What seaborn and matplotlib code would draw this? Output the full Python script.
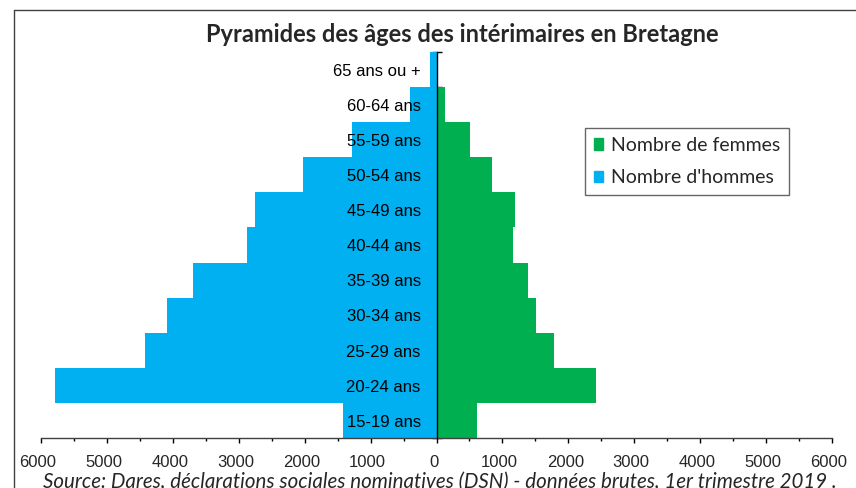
import pandas as pd
import matplotlib.pyplot as plt
import matplotlib.patches as mpatches
import matplotlib.transforms as mtransforms
from matplotlib.ticker import MultipleLocator, FuncFormatter
import seaborn as sns

# tranches d'age, du haut vers le bas
ages = ['65 ans ou +', '60-64 ans', '55-59 ans', '50-54 ans', '45-49 ans',
        '40-44 ans', '35-39 ans', '30-34 ans', '25-29 ans', '20-24 ans', '15-19 ans']
hommes = [105, 395, 1275, 2030, 2750, 2880, 3700, 4090, 4420, 5790, 1425]
femmes = [25, 125, 510, 835, 1195, 1165, 1390, 1515, 1775, 2420, 610]

BLUE = '#00B0F0'
GREEN = '#00B050'


def build_frame():
    rows = []
    for a, h, f in zip(ages, hommes, femmes):
        rows.append({'age': a, 'valeur': -h, 'sexe': "Nombre d'hommes"})
        rows.append({'age': a, 'valeur': f, 'sexe': 'Nombre de femmes'})
    return pd.DataFrame(rows)


def main():
    df = build_frame()
    sns.set_style('white')
    plt.rcParams['font.family'] = ['Liberation Sans', 'DejaVu Sans']

    fig = plt.figure(figsize=(8.56, 4.88), dpi=100)
    ax = fig.add_axes([41 / 856, 1 - 438 / 488, 791 / 856, 386 / 488])

    sns.barplot(data=df, x='valeur', y='age', hue='sexe', order=ages,
                palette={"Nombre d'hommes": BLUE, 'Nombre de femmes': GREEN},
                dodge=False, width=1.0, orient='h', legend=False,
                linewidth=0, saturation=1, ax=ax)

    ax.set_xlim(-6000, 6000)
    ax.set_ylim(len(ages) - 0.5, -0.5)
    ax.set_xlabel('')
    ax.set_ylabel('')

    # axe x
    ax.xaxis.set_major_locator(MultipleLocator(1000))
    ax.xaxis.set_minor_locator(MultipleLocator(500))
    ax.xaxis.set_major_formatter(FuncFormatter(lambda v, p: f'{abs(int(v))}'))
    ax.tick_params(axis='x', which='both', bottom=True)
    ax.tick_params(axis='x', which='major', direction='out', length=3.5,
                   width=1, color='black', labelsize=12, pad=8.5)
    ax.tick_params(axis='x', which='minor', direction='out', length=2.5,
                   width=1, color='black')
    shift = mtransforms.ScaledTranslation(-3 / 100, 0, fig.dpi_scale_trans)
    for lab in ax.get_xticklabels():
        lab.set_transform(lab.get_transform() + shift)

    # axe vertical au centre
    ax.spines['left'].set_position(('data', 0))
    ax.spines['left'].set_color('black')
    ax.spines['left'].set_linewidth(1)
    ax.spines['left'].set_zorder(5)
    ax.spines['bottom'].set_color('#404040')
    ax.spines['bottom'].set_linewidth(1)
    for s in ['top', 'right']:
        ax.spines[s].set_visible(False)
    ax.set_yticks([i + 0.5 for i in range(-1, len(ages))])
    ax.set_yticklabels([])
    ax.tick_params(axis='y', which='major', left=True, direction='inout',
                   length=7, width=1, color='black')

    for i, a in enumerate(ages):
        ax.text(-240, i + 0.05, a, ha='right', va='center', fontsize=12,
                color='black', zorder=6)

    fig.text(462 / 856, 1 - 34 / 488, 'Pyramides des âges des intérimaires en Bretagne',
             ha='center', va='center', fontsize=17, fontweight='bold',
             family=['Lato', 'DejaVu Sans'])

    handles = [mpatches.Patch(color=GREEN, label='Nombre de femmes'),
               mpatches.Patch(color=BLUE, label="Nombre d'hommes")]
    leg = fig.legend(handles=handles, loc='upper left',
                     bbox_to_anchor=(585 / 856, 1 - 128 / 488),
                     borderaxespad=0, frameon=True, fancybox=False,
                     edgecolor='#404040', handlelength=0.5, handleheight=0.55,
                     handletextpad=0.4, labelspacing=0.8, borderpad=0.45,
                     prop={'family': 'Lato', 'size': 14})
    leg.get_frame().set_linewidth(1)

    fig.text(440 / 856, 1 - 488 / 488,
             'Source: Dares, déclarations sociales nominatives (DSN) - données brutes, 1er trimestre 2019 .',
             ha='center', va='baseline', fontsize=14.8, style='italic',
             family=['Lato', 'DejaVu Sans'])

    # cadre du graphique
    fig.add_artist(plt.Line2D([14 / 856, 14 / 856], [0, 1 - 10 / 488],
                              color='#404040', linewidth=1))
    fig.add_artist(plt.Line2D([14 / 856, 1], [1 - 10 / 488, 1 - 10 / 488],
                              color='#404040', linewidth=1))

    fig.savefig('out.png', dpi=100)
    plt.close(fig)


if __name__ == '__main__':
    main()
